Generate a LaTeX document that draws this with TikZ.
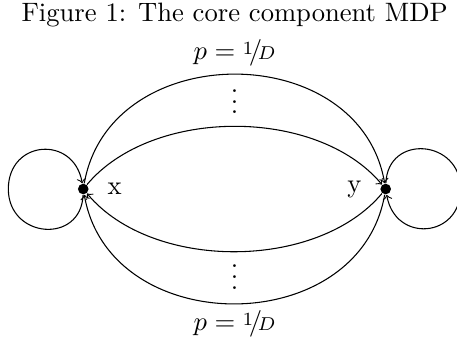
\documentclass[tikz,border=0pt]{standalone}
\usepackage{amsmath}
\usepackage{tikz}
\usetikzlibrary{positioning}

\begin{document}
\begin{tikzpicture}[
  node distance=1.2mm,
  state/.style={circle, fill, inner sep=0pt, minimum size=1.4mm},
  flow/.style={->},
  lbl/.style={anchor=base, inner sep=0pt}
]
\useasboundingbox (0,0) rectangle (6.037,4.452);
\node[lbl] (title) at (3.10,4.165) {Figure 1: The core component MDP};

\node[state] (x) at (1.10,1.955) {};
\node[state] (y) at (5.095,1.955) {};
\node[right=of x] (xname) {x};
\node[left=of y] (yname) {y};
\coordinate (xl) at (0.11,1.955);
\coordinate (yr) at (6.085,1.955);

\node[lbl] (ptop) at (3.10,3.66) {$p = \raisebox{.5ex}{$\scriptstyle 1$}\!/\!{\scriptstyle D}$};
\node[lbl] (pbot) at (3.10,0.08) {$p = \raisebox{.5ex}{$\scriptstyle 1$}\!/\!{\scriptstyle D}$};
\node[lbl] (dtop) at (3.10,2.95) {$\vdots$};
\node[lbl] (dbot) at (3.10,0.634) {$\vdots$};

% x to y, upper side
\draw[flow] (x) to[out=80, in=100, looseness=1.26] (y);
\draw[flow] (x) to[out=50, in=130, looseness=0.88] (y);
% y back to x, lower side
\draw[flow] (y) to[out=-100, in=-80, looseness=1.26] (x);
\draw[flow] (y) to[out=-130, in=-50, looseness=0.88] (x);
% self loops
\draw[flow] (x) to[out=-92, in=-90, looseness=1.7] (xl) to[out=90, in=100, looseness=1.7] (x);
\draw[flow] (y) to[out=88, in=90, looseness=1.7] (yr) to[out=-90, in=-80, looseness=1.7] (y);
\end{tikzpicture}
\end{document}
